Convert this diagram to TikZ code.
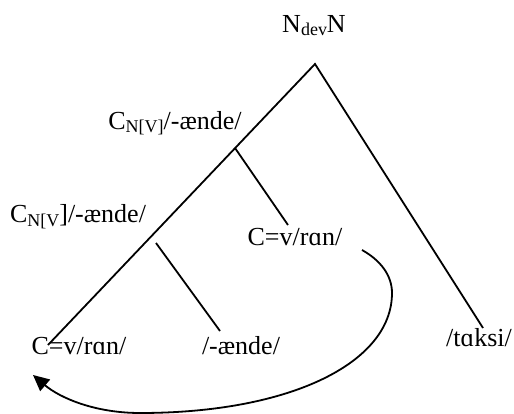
\documentclass[tikz,border=0pt]{standalone}
\usepackage{fontspec}
\setmainfont{Liberation Serif}
\usetikzlibrary{arrows.meta}
\newcommand{\lsub}[1]{\raisebox{-3pt}{\fontsize{18}{18}\selectfont #1}}
\begin{document}
\begin{tikzpicture}[x=1pt,y=-1pt,
  lbl/.style={inner sep=0pt,outer sep=0pt,anchor=base,font=\fontsize{26}{30}\selectfont},
  edge/.style={line width=1.8pt},
  arc/.style={line width=1.8pt,-{Triangle[length=16pt,width=15pt]}}]
\useasboundingbox (0,0) rectangle (514,414);
% labels
\node[lbl] (root) at (314,33) {N\lsub{dev}N};
\node[lbl] (c1) at (175,130) {C\lsub{N[V]}/-ænde/};
\node[lbl] (c2) at (78,223) {C\lsub{N[V}]/-ænde/};
\node[lbl] (mid) at (295,246) {C=v/rɑn/};
\node[lbl] (bot) at (79,354) {C=v/rɑn/};
\node[lbl] (ende) at (241,354) {/-ænde/};
\node[lbl] (taksi) at (479,346) {/tɑksi/};
% tree points
\coordinate (apex) at (315,64);
\coordinate (tR) at (483,328);
\coordinate (tL) at (48,345);
\coordinate (n1) at (235,148);
\coordinate (n1e) at (288,225);
\coordinate (n2) at (156,243);
\coordinate (n2e) at (220,331);
\draw[edge] (tL) -- (apex) -- (tR);
\draw[edge] (n1) -- (n1e);
\draw[edge] (n2) -- (n2e);
% curved arrow
\coordinate (aS) at (362,250);
\coordinate (aR) at (392,293);
\coordinate (aB) at (140,413);
\coordinate (aE) at (33,375);
\draw[arc] (aS) .. controls (380,260) and (392,275) .. (aR)
  .. controls (392,363) and (290,413) .. (aB)
  .. controls (95,413) and (60,398) .. (aE);
\end{tikzpicture}
\end{document}
